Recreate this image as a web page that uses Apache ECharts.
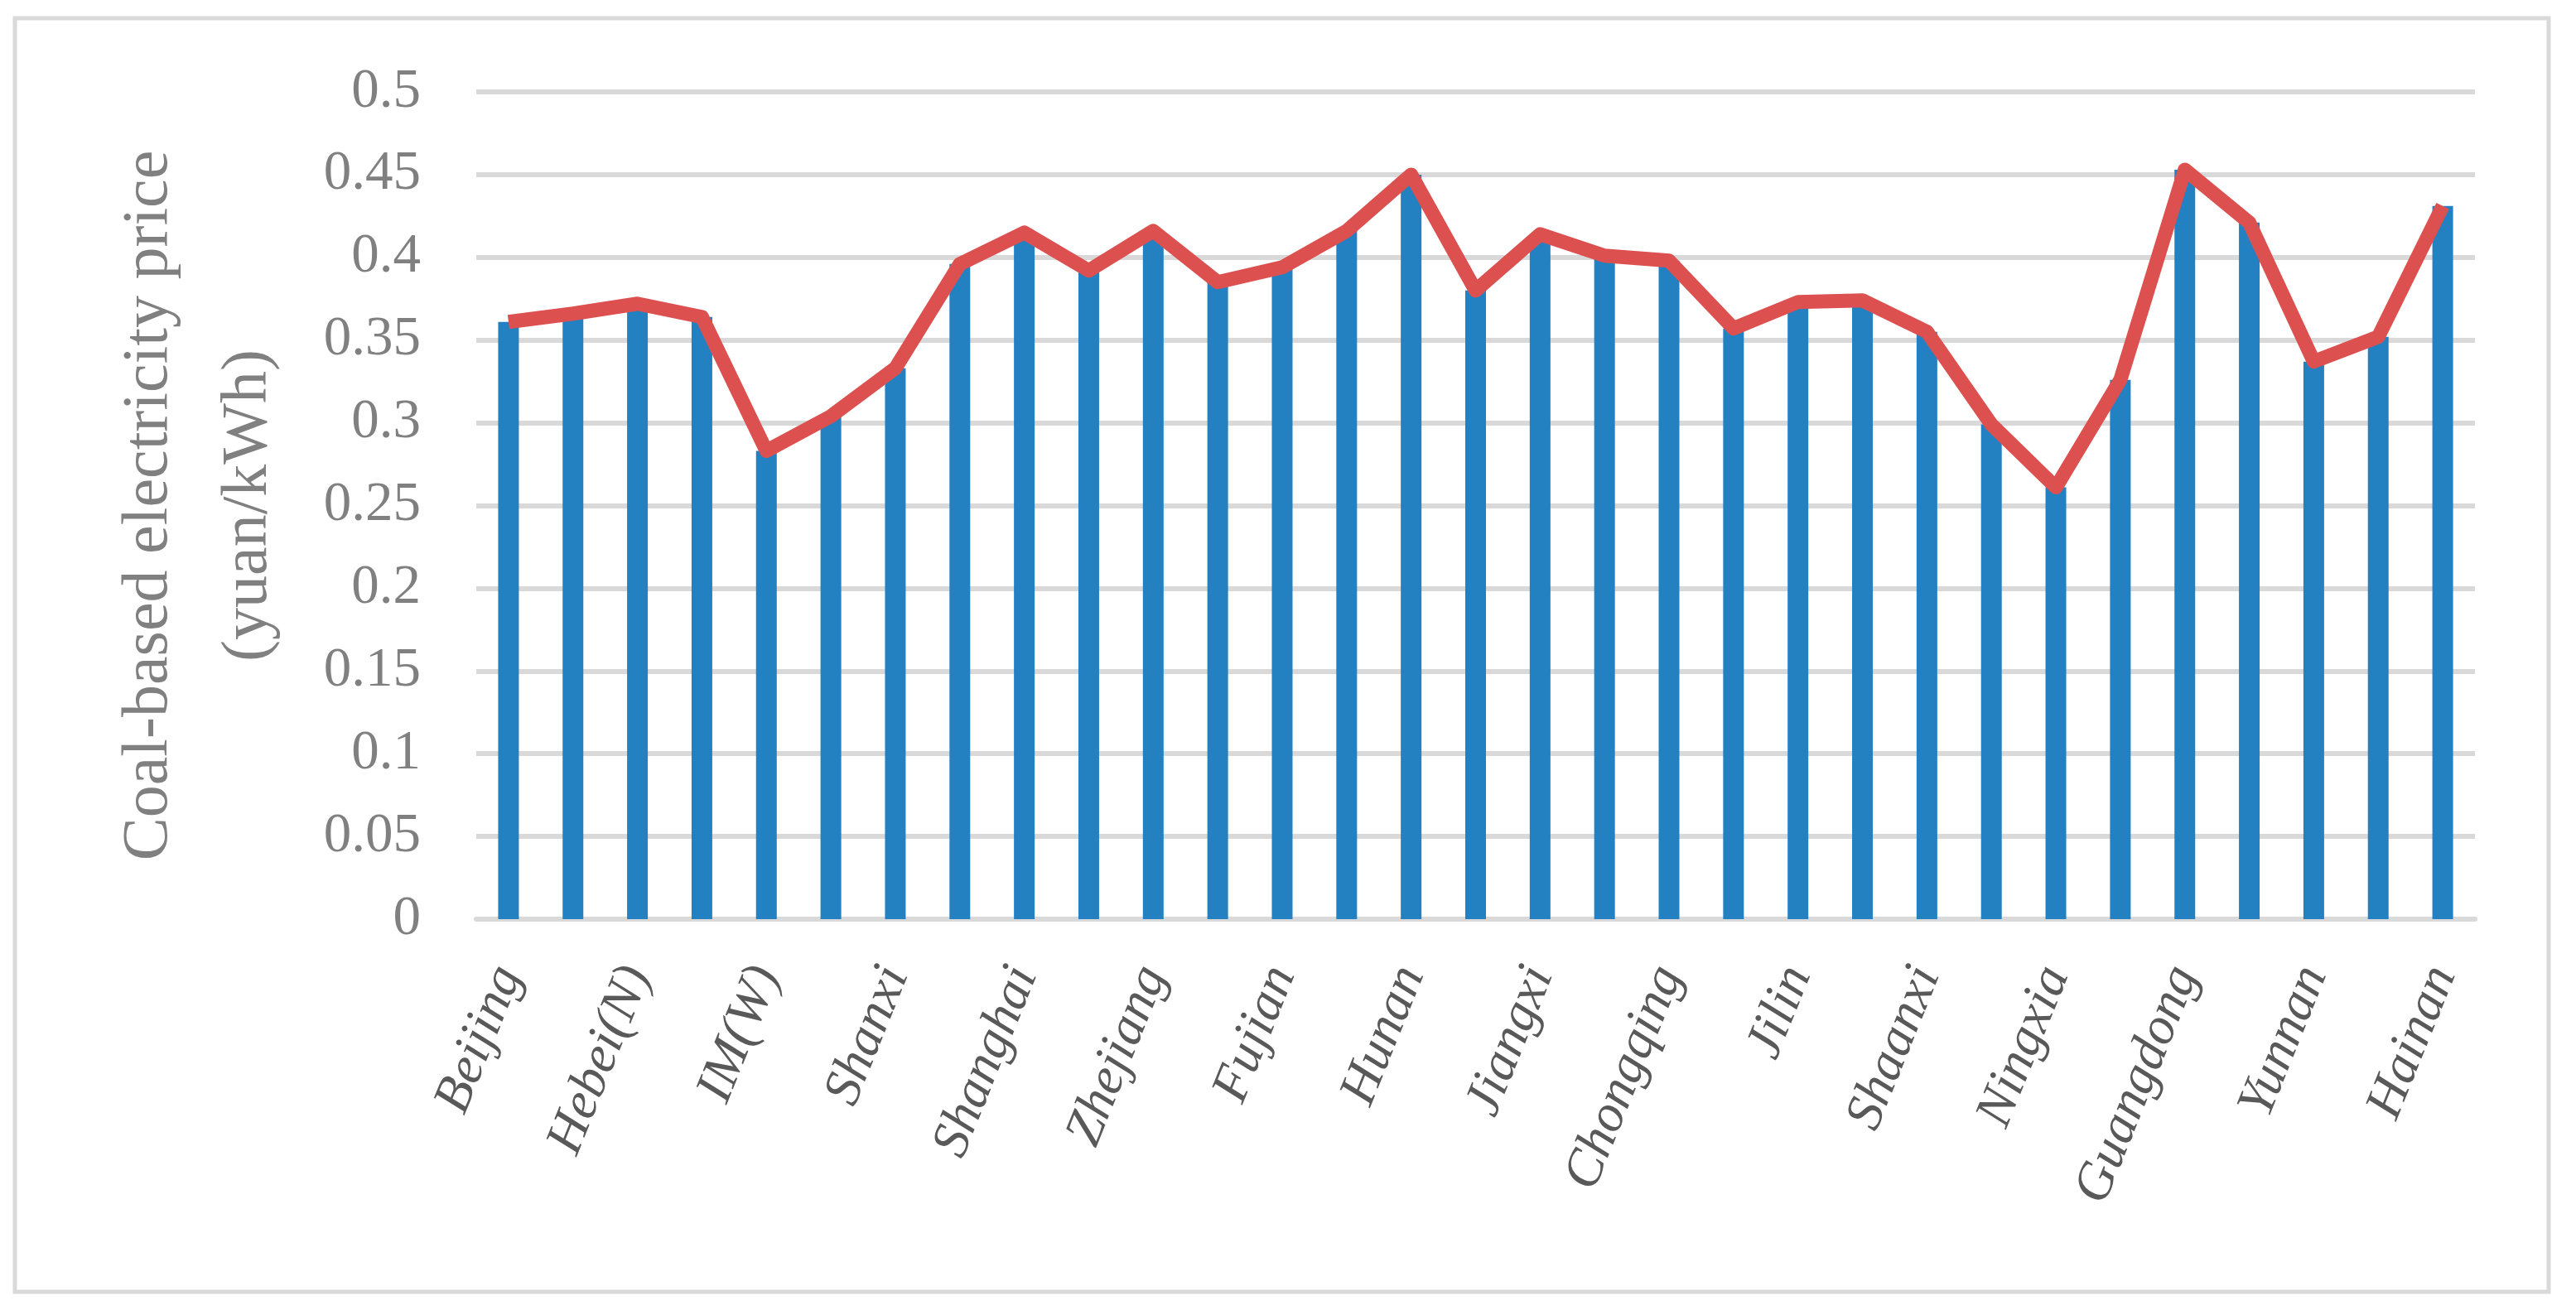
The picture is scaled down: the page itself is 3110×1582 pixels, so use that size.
<!DOCTYPE html>
<html>
<head>
<meta charset="utf-8">
<script src="https://cdn.jsdelivr.net/npm/echarts@6/dist/echarts.min.js"></script>
<style>
html,body{margin:0;padding:0;background:#fff;}
#chart{width:3110px;height:1582px;}
</style>
</head>
<body>
<div id="chart"></div>
<script>
// Categories (31 provincial grids; every other label shown, as in the reference)
const categories = ['Beijing','Tianjin','Hebei(N)','Hebei(S)','IM(W)','IM(E)','Shanxi','Shandong',
  'Shanghai','Jiangsu','Zhejiang','Anhui','Fujian','Hubei','Hunan','Henan','Jiangxi','Sichuan',
  'Chongqing','Liaoning','Jilin','Heilongjiang','Shaanxi','Gansu','Ningxia','Qinghai',
  'Guangdong','Guangxi','Yunnan','Guizhou','Hainan'];
// Coal-based electricity price (yuan/kWh)
const prices = [0.361,0.366,0.372,0.364,0.283,0.304,0.333,0.396,0.415,0.392,0.416,0.385,0.394,
  0.416,0.450,0.380,0.414,0.401,0.398,0.357,0.373,0.374,0.355,0.299,0.261,0.326,0.453,0.421,
  0.337,0.352,0.431];
const yMin = 0, yMax = 0.5, yStep = 0.05;
const yTitle = 'Coal-based electricity price\n(yuan/kWh)';

const chart = echarts.init(document.getElementById('chart'), null, {renderer:'canvas'});
const serif = '"Liberation Serif", "DejaVu Serif", serif';
chart.setOption({
  animation: false,
  backgroundColor: '#ffffff',
  textStyle: {fontFamily: serif},
  graphic: [{
    type: 'rect', silent: true, z: -10,
    shape: {x: 18, y: 22, width: 3059, height: 1538},
    style: {fill: 'none', stroke: '#d9d9d9', lineWidth: 5}
  }],
  grid: {left: 575, right: 122, top: 111, bottom: 472, containLabel: false},
  xAxis: {
    type: 'category',
    data: categories,
    boundaryGap: true,
    axisLine: {show: true, lineStyle: {color: '#d9d9d9', width: 6}},
    axisTick: {show: false},
    axisLabel: {
      interval: 1, rotate: 68, margin: 60,
      fontFamily: serif, fontStyle: 'italic', fontSize: 64, color: '#595959'
    }
  },
  yAxis: {
    type: 'value', min: yMin, max: yMax, interval: yStep,
    name: yTitle, nameLocation: 'middle', nameGap: 214, nameRotate: 90,
    nameTextStyle: {fontFamily: serif, fontSize: 78, color: '#808080', lineHeight: 120, align: 'center'},
    axisLine: {show: false},
    axisTick: {show: false},
    axisLabel: {margin: 67, fontFamily: serif, fontSize: 67, color: '#808080'},
    splitLine: {show: true, lineStyle: {color: '#d9d9d9', width: 6}}
  },
  series: [
    {
      type: 'bar', data: prices, barWidth: 25,
      itemStyle: {color: '#2481C1'}, z: 2
    },
    {
      type: 'line', data: prices, showSymbol: false, symbol: 'none',
      lineStyle: {color: '#DC5150', width: 17, join: 'round'}, z: 3
    }
  ]
});
</script>
</body>
</html>
